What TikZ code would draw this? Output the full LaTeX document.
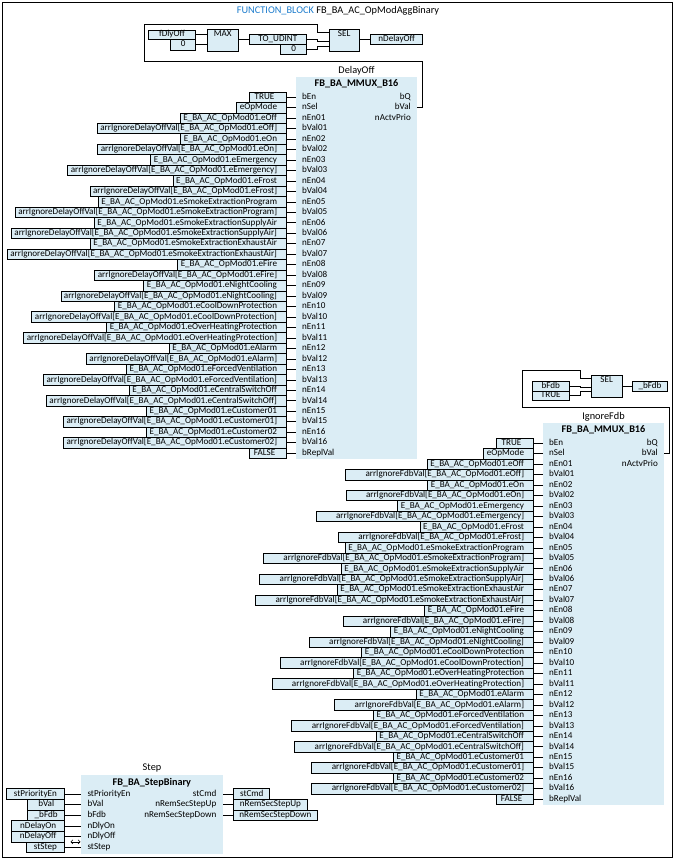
\documentclass[tikz,border=0pt]{standalone}
\usepackage{fontspec}
\setmainfont{Carlito}
\usetikzlibrary{arrows.meta}
\definecolor{boxfill}{RGB}{219,237,245}
\definecolor{fbblue}{RGB}{30,125,205}
\newcommand\fs{\fontsize{9.1}{10}\selectfont}
\newcommand\fl{\fontsize{10.3}{12}\selectfont}
\newcommand\ft{\fontsize{10.2}{12}\selectfont\bfseries}
\newcommand\mmuxblock[6]{%
  \node[blk, minimum width=121, minimum height=381.8, anchor=north west] (#1blk) at (#2,#3-20.3) {};
  \node[lbl] (#1inst) at (#2+60.5,#3-26.3) {#5};
  \node[ttl] (#1ttl) at (#2+60.5,#3-13.8) {FB\_BA\_MMUX\_B16};
  \node[inbox] (#1en) at (#2-9.5,#3) {TRUE\kern6pt};
  \node[pinl] (#1pen) at (#2+6,#3) {bEn};
  \node[inbox] (#1sel) at (#2-9.5,#3+10.47) {eOpMode\kern6pt};
  \node[pinl] (#1psel) at (#2+6,#3+10.47) {nSel};
  \node[inbox] (#1rv) at (#2-9.5,#3+355.98) {FALSE\kern6pt};
  \node[pinl] (#1prv) at (#2+6,#3+355.98) {bReplVal};
  \foreach \m [count=\i] in {eOff,eOn,eEmergency,eFrost,eSmokeExtractionProgram,eSmokeExtractionSupplyAir,eSmokeExtractionExhaustAir,eFire,eNightCooling,eCoolDownProtection,eOverHeatingProtection,eAlarm,eForcedVentilation,eCentralSwitchOff,eCustomer01,eCustomer02}{%
    \pgfmathsetmacro\ya{#3+20.94*\i}%
    \pgfmathsetmacro\yb{#3+20.94*\i+10.47}%
    \node[inbox] (#1n\i) at (#2-9.5,\ya) {E\_BA\_AC\_OpMod01.\m\kern6pt};
    \node[pinl] (#1pn\i) at (#2+6,\ya) {nEn\ifnum\i<10 0\fi\i};
    \node[inbox] (#1b\i) at (#2-9.5,\yb) {\kern#6pt#4[E\_BA\_AC\_OpMod01.\m]\kern6pt};
    \node[pinl] (#1pb\i) at (#2+6,\yb) {bVal\ifnum\i<10 0\fi\i};
    \draw[wire] (#1n\i.east) -- (#1n\i.east -| #1blk.west);
    \draw[wire] (#1b\i.east) -- (#1b\i.east -| #1blk.west);
  }
  \foreach \r in {en,sel,rv}{\draw[wire] (#1\r.east) -- (#1\r.east -| #1blk.west);}
  \node[pinr] (#1q) at (#2+115,#3) {bQ};
  \node[pinr] (#1val) at (#2+115,#3+10.47) {bVal};
  \node[pinr] (#1prio) at (#2+115,#3+20.94) {nActvPrio};
}
\begin{document}
\begin{tikzpicture}[x=1pt,y=-1pt,
  wire/.style={line width=0.9pt},
  inbox/.style={draw, fill=boxfill, line width=0.9pt, anchor=east, minimum height=10.47, minimum width=37, inner xsep=3pt, inner ysep=0pt, text height=6.3pt, text depth=2.1pt, font=\fs},
  vbox/.style={draw, fill=boxfill, line width=0.9pt, inner sep=0pt, text height=6.3pt, text depth=2.1pt, font=\fs},
  fbox/.style={draw, fill=boxfill, line width=0.9pt, inner sep=0pt},
  fname/.style={anchor=north, inner sep=1.5pt, font=\fs},
  blk/.style={fill=boxfill, inner sep=0pt},
  lbl/.style={font=\fl, inner sep=0pt},
  ttl/.style={font=\ft, inner sep=0pt},
  pinl/.style={anchor=west, inner sep=0pt, font=\fs, text height=6.3pt, text depth=2.1pt},
  pinr/.style={anchor=east, inner sep=0pt, font=\fs, text height=6.3pt, text depth=2.1pt}]
\fill[white] (0,0) rectangle (677,862);
\useasboundingbox (0,0) rectangle (677,862);
\draw[line width=0.9pt] (2.7,2.7) rectangle (672.7,857.3);
\node[font=\fl, inner sep=0pt] (title) at (338,10.5) {\textcolor{fbblue}{FUNCTION\_BLOCK} FB\_BA\_AC\_OpModAggBinary};

% top network
\node[vbox, minimum width=47.4, minimum height=9.5] (fdly) at (172,34.7) {fDlyOff};
\node[vbox, minimum width=25, minimum height=10.6] (z1) at (183.2,44.8) {0};
\node[fbox, minimum width=31, minimum height=21.7, label={[fname]north:MAX}] (max) at (222.8,40.15) {};
\node[vbox, minimum width=57.7, minimum height=9.3] (tou) at (277.85,39.35) {TO\_UDINT};
\node[vbox, minimum width=26.2, minimum height=10.3] (z2) at (293.6,49.15) {0};
\node[fbox, minimum width=30.3, minimum height=21.7, label={[fname]north:SEL}] (sel1) at (344.15,40.15) {};
\node[vbox, minimum width=52, minimum height=9.7] (ndo) at (396.7,39.15) {nDelayOff};
\coordinate (s1g) at (329,32.5);
\coordinate (s1a) at (329,41.6);
\coordinate (s1b) at (329,46);
\draw[wire] (fdly.east) -- (fdly.east -| max.west);
\draw[wire] (z1.east) -- (z1.east -| max.west);
\draw[wire] (max.east |- tou.west) -- (tou.west);
\draw[wire] (tou.east) -| (317.7,41.6) -- (s1a);
\draw[wire] (z2.east) -| (317.7,46) -- (s1b);
\draw[wire] (sel1.east |- ndo.west) -- (ndo.west);

% DelayOff / IgnoreFdb
\mmuxblock{d}{296}{97.3}{arrIgnoreDelayOffVal}{DelayOff}{0}
\mmuxblock{i}{543}{443.3}{arrIgnoreFdbVal}{IgnoreFdb}{17}
\draw[wire] (dblk.east |- dval) -- ++(5.3,0) |- (144,61) |- (317.7,24) |- (s1g);

% second SEL
\node[vbox, minimum width=37, minimum height=10] (bfdb) at (550.8,386) {bFdb};
\node[vbox, minimum width=37, minimum height=9.7] (tru2) at (550.8,395.85) {TRUE};
\node[fbox, minimum width=31, minimum height=22, label={[fname]north:SEL}] (sel2) at (606.6,386) {};
\node[vbox, minimum width=35.4, minimum height=10] (bf2) at (650,386) {\_bFdb};
\coordinate (s2g) at (590.7,378.2);
\coordinate (s2a) at (590.7,387.4);
\coordinate (s2b) at (590.7,391.7);
\draw[wire] (bfdb.east) -| (580,387.4) -- (s2a);
\draw[wire] (tru2.east) -| (580,391.7) -- (s2b);
\draw[wire] (sel2.east |- bf2.west) -- (bf2.west);
\draw[wire] (iblk.east |- ival) -- ++(5.3,0) |- (522.7,407.3) |- (580,370) |- (s2g);

% Step
\node[blk, minimum width=141.7, minimum height=78.3, anchor=north west] (sblk) at (81,775) {};
\node[lbl] (sinst) at (152,768.3) {Step};
\node[ttl] (sttl) at (151.8,782.5) {FB\_BA\_StepBinary};
\foreach \t/\p/\w [count=\i] in {stPriorityEn/stPriorityEn/58.3, bVal/bVal/36.7, \_bFdb/bFdb/36.7, nDelayOn/nDlyOn/52.7, nDelayOff/nDlyOff/52.7, stStep/stStep/38.3}{
  \pgfmathsetmacro\yy{794+10.7*(\i-1)}
  \node[vbox, anchor=east, minimum width=\w, minimum height=10.7] (si\i) at (65,\yy) {\t};
  \node[pinl] (sp\i) at (87.3,\yy) {\p};
  \draw[wire] (si\i.east) -- (si\i.east -| sblk.west);
}
\foreach \p/\t/\w [count=\i] in {stCmd/stCmd/36, nRemSecStepUp/nRemSecStepUp/73.4, nRemSecStepDown/nRemSecStepDown/83.4}{
  \pgfmathsetmacro\yy{794+10.7*(\i-1)}
  \node[pinr] (so\i) at (216.5,\yy) {\p};
  \node[vbox, anchor=west, minimum width=\w, minimum height=10.7] (sob\i) at (233.3,\yy) {\t};
  \draw[wire] (sblk.east |- so\i) -- (sob\i.west);
}
\draw[line width=0.6pt, {Straight Barb[length=2pt,width=4pt]}-{Straight Barb[length=2pt,width=4pt]}] (70.5,841.8) -- (80.5,841.8);
\end{tikzpicture}
\end{document}
